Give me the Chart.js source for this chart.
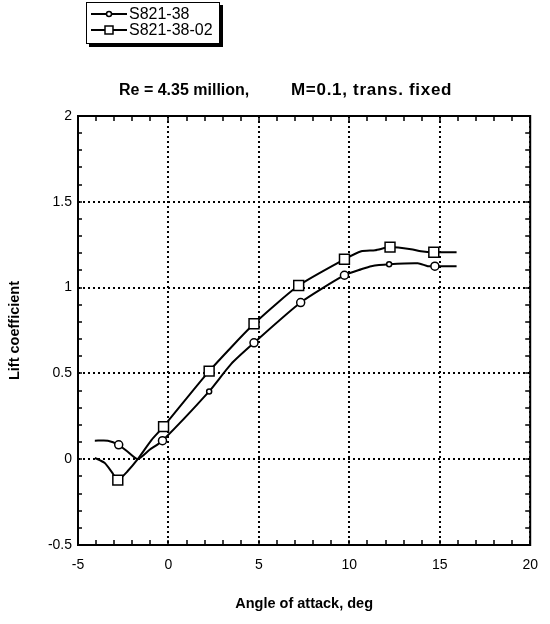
<!DOCTYPE html>
<html><head><meta charset="utf-8">
<script src="https://cdn.jsdelivr.net/npm/chart.js@4.4.0/dist/chart.umd.min.js"></script>
<style>html,body{margin:0;padding:0;background:#fff}#wrap{width:550px;height:624px}</style>
</head><body><div id="wrap"><canvas id="c" width="550" height="624"></canvas></div>
<script>
// ---- data ----
const seriesNames = ['S821-38', 'S821-38-02'];
const alphaA = [-4.07, -3.35, -2.75, -2.25, -1.70, -1.04, -0.33, 2.25, 3.46, 4.73, 7.31, 9.73, 10.66, 11.21, 12.20, 13.79, 14.34, 14.73, 15.93];
const liftA  = [0.108, 0.108, 0.084, 0.043, 0.0, 0.055, 0.108, 0.395, 0.554, 0.678, 0.913, 1.072, 1.107, 1.125, 1.136, 1.142, 1.125, 1.125, 1.125];
const alphaB = [-4.07, -3.52, -3.13, -2.80, -2.25, -1.70, -0.93, -0.27, 2.25, 4.73, 7.20, 9.73, 10.66, 11.43, 12.25, 13.41, 13.96, 14.67, 15.93];
const liftB  = [0.008, -0.022, -0.075, -0.122, -0.069, 0.0, 0.113, 0.19, 0.513, 0.789, 1.012, 1.165, 1.212, 1.218, 1.236, 1.224, 1.212, 1.206, 1.206];
const xTickLabels = ['-5', '0', '5', '10', '15', '20'];
const yTickLabels = ['-0.5', '0', '0.5', '1', '1.5', '2'];
const titleParts = ['Re = 4.35 million,', 'M=0.1, trans. fixed'];
const xTitle = 'Angle of attack, deg';
const yTitle = 'Lift coefficient';

// ---- build ----
const toXY = (xs, ys) => xs.map((v, i) => ({x: v, y: ys[i]}));
const bigA = [2, 6, 9, 10, 11, 17], smallA = [7, 14];
const marksB = [3, 7, 8, 9, 10, 11, 14, 17];
const radA = alphaA.map((_, i) => bigA.includes(i) ? 4 : (smallA.includes(i) ? 2.5 : 0));
const radB = alphaB.map((_, i) => marksB.includes(i) ? 7 : 0);

const FONT = "'Liberation Sans', Arial, sans-serif";

const framePlugin = {
  id: 'frame',
  beforeDraw(chart) {
    const ctx = chart.ctx;
    ctx.save(); ctx.fillStyle = '#fff'; ctx.fillRect(0, 0, chart.width, chart.height); ctx.restore();
  },
  afterDraw(chart) {
    const {ctx, chartArea: a, scales: {x, y}} = chart;
    ctx.save();
    ctx.strokeStyle = '#000';
    ctx.lineWidth = 2;
    ctx.strokeRect(a.left, a.top, a.right - a.left, a.bottom - a.top);
    ctx.lineWidth = 1.5;
    ctx.beginPath();
    for (let v = -5; v <= 20; v += 1) {
      const px = Math.round(x.getPixelForValue(v));
      ctx.moveTo(px, a.bottom); ctx.lineTo(px, a.bottom - 5);
      ctx.moveTo(px, a.top); ctx.lineTo(px, a.top + 5);
    }
    for (let i = -5; i <= 20; i++) {
      const py = Math.round(y.getPixelForValue(i / 10));
      ctx.moveTo(a.left, py); ctx.lineTo(a.left + 4, py);
      ctx.moveTo(a.right, py); ctx.lineTo(a.right - 5, py);
    }
    ctx.stroke();

    // title
    ctx.fillStyle = '#000';
    ctx.font = 'bold 16px ' + FONT;
    ctx.textBaseline = 'alphabetic';
    ctx.textAlign = 'left';
    ctx.fillText(titleParts[0], 119, 95);
    ctx.font = 'bold 17px ' + FONT;
    ctx.letterSpacing = '0.7px';
    ctx.fillText(titleParts[1], 291, 95);
    ctx.letterSpacing = '0px';

    // legend box with shadow
    const bx = 86, by = 2, bw = 134, bh = 42;
    ctx.fillStyle = '#000';
    ctx.fillRect(bx + 3, by + 3, bw, bh);
    ctx.fillStyle = '#fff';
    ctx.fillRect(bx, by, bw, bh);
    ctx.lineWidth = 1;
    ctx.strokeStyle = '#000';
    ctx.strokeRect(bx + 0.5, by + 0.5, bw - 1, bh - 1);
    const rows = [14, 30];
    ctx.lineWidth = 2;
    rows.forEach((ry, k) => {
      ctx.beginPath(); ctx.moveTo(91, ry); ctx.lineTo(127, ry); ctx.stroke();
      ctx.fillStyle = '#fff';
      ctx.lineWidth = 1.5;
      if (k === 0) {
        ctx.beginPath(); ctx.arc(109, ry, 2.5, 0, Math.PI * 2); ctx.fill(); ctx.stroke();
      } else {
        ctx.fillRect(105, ry - 4, 8, 8); ctx.strokeRect(105, ry - 4, 8, 8);
      }
      ctx.lineWidth = 2;
      ctx.fillStyle = '#000';
      ctx.font = '16px ' + FONT;
      ctx.textBaseline = 'middle';
      ctx.fillText(seriesNames[k], 129, ry + 1);
    });
    ctx.restore();
  }
};

new Chart(document.getElementById('c'), {
  type: 'line',
  data: {
    datasets: [
      {label: seriesNames[0], data: toXY(alphaA, liftA), borderColor: '#000', borderWidth: 2,
       pointStyle: 'circle', pointRadius: radA, pointBackgroundColor: '#fff', pointBorderColor: '#000',
       pointBorderWidth: 1.5, tension: 0.2, fill: false},
      {label: seriesNames[1], data: toXY(alphaB, liftB), borderColor: '#000', borderWidth: 2,
       pointStyle: 'rect', pointRadius: radB, pointBackgroundColor: '#fff', pointBorderColor: '#000',
       pointBorderWidth: 1.5, tension: 0.2, fill: false}
    ]
  },
  options: {
    responsive: false, animation: false, devicePixelRatio: 1,
    layout: {padding: {top: 116, right: 17, left: 0, bottom: 0}},
    plugins: {legend: {display: false}, title: {display: false}, tooltip: {enabled: false}},
    scales: {
      x: {
        type: 'linear', min: -5, max: 20,
        afterFit(s) { s.height = 79; },
        ticks: {stepSize: 5, padding: 12, color: '#000', font: {family: FONT, size: 14},
                callback: (v) => xTickLabels[Math.round((v + 5) / 5)] ?? ''},
        grid: {color: '#000', lineWidth: 2, drawTicks: false},
        border: {display: false, dash: [2, 3]},
        title: {display: true, text: xTitle, color: '#000', font: {family: FONT, size: 14.5, weight: 'bold'},
                padding: {top: 0, bottom: 11}}
      },
      y: {
        type: 'linear', min: -0.5, max: 2,
        afterFit(s) { s.width = 78; },
        ticks: {stepSize: 0.5, padding: 6, color: '#000', font: {family: FONT, size: 14},
                callback: (v) => yTickLabels[Math.round((v + 0.5) / 0.5)] ?? ''},
        grid: {color: '#000', lineWidth: 2, drawTicks: false},
        border: {display: false, dash: [2, 3]},
        title: {display: true, text: yTitle, color: '#000', font: {family: FONT, size: 14.5, weight: 'bold'},
                padding: {top: 6, bottom: 0}}
      }
    }
  },
  plugins: [framePlugin]
});
</script>
</body></html>
